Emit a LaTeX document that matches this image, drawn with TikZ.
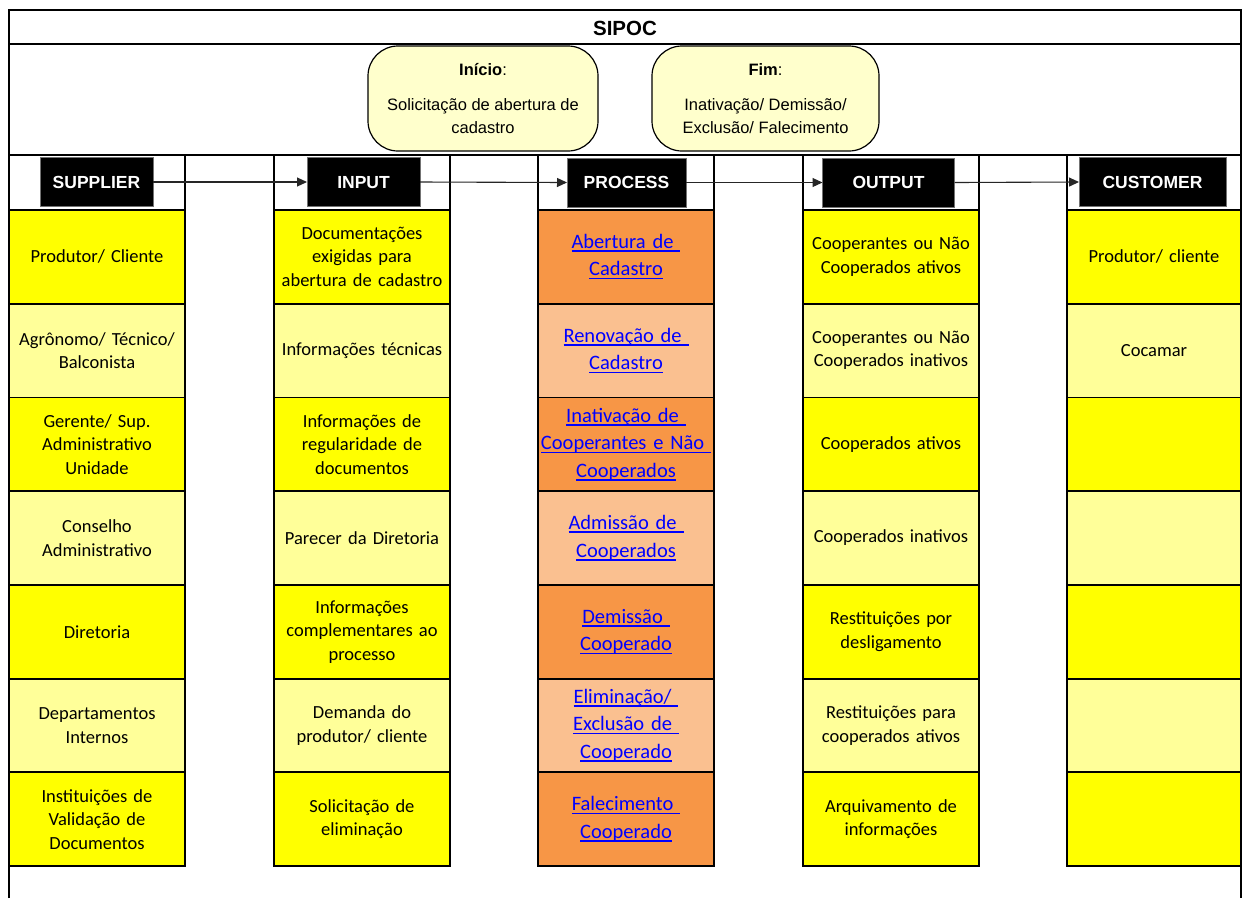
\documentclass[tikz,border=0pt]{standalone}
\usepackage{fontspec}
\setmainfont{Carlito}
\newfontfamily\arialf{Liberation Sans}
\usetikzlibrary{arrows.meta}
\definecolor{yel}{HTML}{FFFF00}
\definecolor{lyel}{HTML}{FFFF99}
\definecolor{org}{HTML}{F79646}
\definecolor{lorg}{HTML}{FAC090}
\definecolor{cream}{HTML}{FFFFCC}
\definecolor{lnkblue}{HTML}{0000FF}
% underlined hyperlink-style text with a fixed underline depth
\newsavebox\lnkbox
\newcommand\lnk[1]{\leavevmode\sbox\lnkbox{#1}\rlap{\rule[-3.5pt]{\wd\lnkbox}{1.6pt}}\usebox\lnkbox}

\begin{document}
\begin{tikzpicture}[x=1pt,y=-1pt,
  frame/.style={line width=1.8pt},
  cell/.style={draw, line width=1.8pt, anchor=north west, outer sep=0pt, inner sep=0pt,
    minimum width=176pt, minimum height=93.7pt, align=center, text width=172pt,
    font=\fontsize{18.5}{23.5}\selectfont},
  ccell/.style={cell, minimum width=174pt, text width=170pt},
  pcell/.style={cell, text=lnkblue, font=\fontsize{20.5}{27.5}\selectfont},
  head/.style={fill=black, draw=black!55, line width=0.8pt, text=white, outer sep=0pt,
    minimum height=49pt, text height=12.6pt, text depth=0pt,
    font=\arialf\bfseries\fontsize{17.5}{20}\selectfont},
  endbox/.style={draw, fill=cream, line width=1.2pt, rounded corners=30pt, outer sep=0pt,
    minimum width=230pt, minimum height=105pt, align=center,
    font=\arialf\fontsize{16.5}{23}\selectfont},
  arr/.style={line width=1.1pt, draw=black!85, -{Triangle[length=10pt,width=9pt]}}
]
\useasboundingbox (0,0) rectangle (1244,898);
\fill[white] (0,0) rectangle (1244,898);

% outer frame and horizontal bands
\draw[frame] (9,898) -- (9,10) -- (1241,10) -- (1241,898);
\draw[frame] (9,44) -- (1241,44);
\draw[frame] (9,155) -- (1241,155);
\node[font=\arialf\bfseries\fontsize{20.5}{24}\selectfont] (title) at (625,28) {SIPOC};

% start / end of the process
\node[endbox] (ini) at (483,98.5) {\textbf{Início}:\\[12pt]Solicitação de abertura de\\cadastro};
\node[endbox, minimum width=227pt] (fim) at (765.5,98.5) {\textbf{Fim}:\\[12pt]Inativação/ Demissão/\\Exclusão/ Falecimento};

% column edges in the header band
\foreach \xx in {185,274,450,538,714,803,979,1067}
  \draw[frame] (\xx,155) -- (\xx,211);

% column headers
\node[head, minimum width=113pt] (hs) at (96.5,182) {SUPPLIER};
\node[head, minimum width=113pt] (hi) at (363.5,182) {INPUT};
\node[head, minimum width=119pt] (hp) at (626.5,182.5) {PROCESS};
\node[head, minimum width=132pt] (ho) at (888.5,182.5) {OUTPUT};
\node[head, minimum width=147pt] (hc) at (1152.5,182) {CUSTOMER};

\draw[arr] (hs.east) -- (hi.west);
\draw[arr] (hi.east) -- (hp.west);
\draw[arr] (hp.east) -- (ho.west);
\draw[arr] (ho.east) -- (hc.west);

% SUPPLIER
\node[cell, fill=yel]  (s1) at (9,210)   {Produtor/ Cliente};
\node[cell, fill=lyel] (s2) at (9,303.7) {Agrônomo/ Técnico/\\Balconista};
\node[cell, fill=yel]  (s3) at (9,397.4) {Gerente/ Sup.\\Administrativo\\Unidade};
\node[cell, fill=lyel] (s4) at (9,491.1) {Conselho\\Administrativo};
\node[cell, fill=yel]  (s5) at (9,584.9) {Diretoria};
\node[cell, fill=lyel] (s6) at (9,678.6) {Departamentos\\Internos};
\node[cell, fill=yel]  (s7) at (9,772.3) {Instituições de\\Validação de\\Documentos};

% INPUT
\node[cell, fill=yel]  (i1) at (274,210)   {Documentações\\exigidas para\\abertura de cadastro};
\node[cell, fill=lyel] (i2) at (274,303.7) {Informações técnicas};
\node[cell, fill=yel]  (i3) at (274,397.4) {Informações de\\regularidade de\\documentos};
\node[cell, fill=lyel] (i4) at (274,491.1) {Parecer da Diretoria};
\node[cell, fill=yel]  (i5) at (274,584.9) {Informações\\complementares ao\\processo};
\node[cell, fill=lyel] (i6) at (274,678.6) {Demanda do\\produtor/ cliente};
\node[cell, fill=yel]  (i7) at (274,772.3) {Solicitação de\\eliminação};

% PROCESS
\node[pcell, fill=org]  (p1) at (538,210)   {\lnk{Abertura de\ }\\\lnk{Cadastro}};
\node[pcell, fill=lorg] (p2) at (538,303.7) {\lnk{Renovação de\ }\\\lnk{Cadastro}};
\node[pcell, fill=org]  (p3) at (538,397.4) {\lnk{Inativação de\ }\\\lnk{Cooperantes e Não\ }\\\lnk{Cooperados}};
\node[pcell, fill=lorg] (p4) at (538,491.1) {\lnk{Admissão de\ }\\\lnk{Cooperados}};
\node[pcell, fill=org]  (p5) at (538,584.9) {\lnk{Demissão\ }\\\lnk{Cooperado}};
\node[pcell, fill=lorg] (p6) at (538,678.6) {\lnk{Eliminação/\ }\\\lnk{Exclusão de\ }\\\lnk{Cooperado}};
\node[pcell, fill=org]  (p7) at (538,772.3) {\lnk{Falecimento\ }\\\lnk{Cooperado}};

% OUTPUT
\node[cell, fill=yel]  (o1) at (803,210)   {Cooperantes ou Não\\Cooperados ativos};
\node[cell, fill=lyel] (o2) at (803,303.7) {Cooperantes ou Não\\Cooperados inativos};
\node[cell, fill=yel]  (o3) at (803,397.4) {Cooperados ativos};
\node[cell, fill=lyel] (o4) at (803,491.1) {Cooperados inativos};
\node[cell, fill=yel]  (o5) at (803,584.9) {Restituições por\\desligamento};
\node[cell, fill=lyel] (o6) at (803,678.6) {Restituições para\\cooperados ativos};
\node[cell, fill=yel]  (o7) at (803,772.3) {Arquivamento de\\informações};

% CUSTOMER
\node[ccell, fill=yel]  (c1) at (1067,210)   {Produtor/ cliente};
\node[ccell, fill=lyel] (c2) at (1067,303.7) {Cocamar};
\node[ccell, fill=yel]  (c3) at (1067,397.4) {};
\node[ccell, fill=lyel] (c4) at (1067,491.1) {};
\node[ccell, fill=yel]  (c5) at (1067,584.9) {};
\node[ccell, fill=lyel] (c6) at (1067,678.6) {};
\node[ccell, fill=yel]  (c7) at (1067,772.3) {};
\end{tikzpicture}
\end{document}
